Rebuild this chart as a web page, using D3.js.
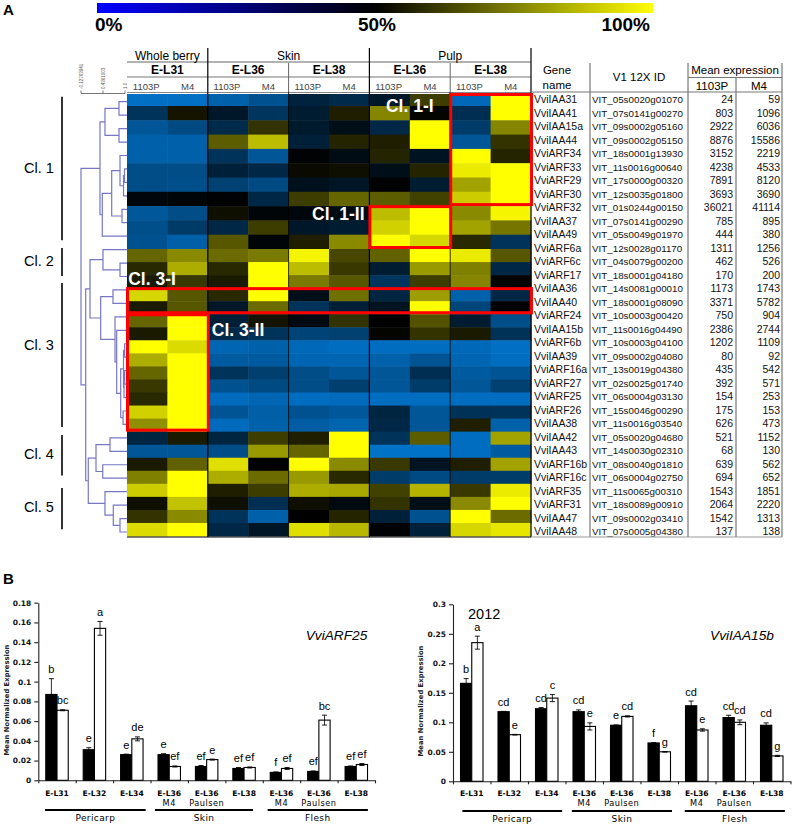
<!DOCTYPE html>
<html>
<head>
<meta charset="utf-8">
<script src="https://d3js.org/d3.v7.min.js"></script>
<style>
html, body { margin: 0; padding: 0; background: #fff; }
svg { display: block; font-family: "Liberation Sans", Arial, sans-serif; }
.bold8 { font-family: "DejaVu Sans", sans-serif; font-weight: bold; }
</style>
</head>
<body>
<div id="chart"></div>
<script>
// ---- panel A data ----
const genes = ["VviIAA31","VviIAA41","VviIAA15a","VviIAA44","VviARF34","VviARF33","VviARF29","VviARF30","VviARF32","VviIAA37","VviIAA49","VviARF6a","VviARF6c","VviARF17","VviIAA36","VviIAA40","VviARF24","VviIAA15b","VviARF6b","VviIAA39","VviARF16a","VviARF27","VviARF25","VviARF26","VviIAA38","VviIAA42","VviIAA43","VviARF16b","VviARF16c","VviARF35","VviARF31","VviIAA47","VviIAA48"];
const vitIds = ["VIT_05s0020g01070","VIT_07s0141g00270","VIT_09s0002g05160","VIT_09s0002g05150","VIT_18s0001g13930","VIT_11s0016g00640","VIT_17s0000g00320","VIT_12s0035g01800","VIT_01s0244g00150","VIT_07s0141g00290","VIT_05s0049g01970","VIT_12s0028g01170","VIT_04s0079g00200","VIT_18s0001g04180","VIT_14s0081g00010","VIT_18s0001g08090","VIT_10s0003g00420","VIT_11s0016g04490","VIT_10s0003g04100","VIT_09s0002g04080","VIT_13s0019g04380","VIT_02s0025g01740","VIT_06s0004g03130","VIT_15s0046g00290","VIT_11s0016g03540","VIT_05s0020g04680","VIT_14s0030g02310","VIT_08s0040g01810","VIT_06s0004g02750","VIT_11s0065g00310","VIT_18s0089g00910","VIT_09s0002g03410","VIT_07s0005g04380"];
const mean1103P = [24,803,2922,8876,3152,4238,7891,3693,36021,785,444,1311,462,170,1173,3371,750,2386,1202,80,435,392,154,175,626,521,68,639,694,1543,2064,1542,137];
const meanM4 = [59,1096,6036,15586,2219,4533,8120,3690,41114,895,380,1256,526,200,1743,5782,904,2744,1109,92,542,571,253,153,473,1152,130,562,652,1851,2220,1313,138];
const heat = [
  [2,2,8,15,35,32,40,62,5,100],
  [28,54,40,27,38,56,76,51,30,100],
  [13,18,32,60,39,44,33,100,24,76],
  [8,8,68,87,36,57,56,100,13,60],
  [8,8,28,13,49,45,57,42,100,57],
  [17,17,36,33,52,53,44,57,96,100],
  [17,16,22,18,43,41,49,38,82,100],
  [47,48,49,33,62,70,68,63,90,100],
  [12,17,53,48,47,45,87,100,77,98],
  [16,25,33,62,40,38,91,100,82,73],
  [15,9,67,48,56,77,100,92,58,28],
  [70,77,71,74,98,64,69,100,96,67],
  [58,84,58,100,87,61,38,80,75,33],
  [55,61,55,100,74,67,27,62,76,51],
  [92,67,58,100,44,72,34,81,8,33],
  [55,67,40,71,28,37,42,100,20,49],
  [70,100,37,54,46,60,50,66,38,16],
  [55,100,32,28,21,22,51,60,55,29],
  [100,93,6,8,5,3,3,3,5,2],
  [84,100,11,11,6,6,8,14,6,3],
  [70,100,28,23,17,13,13,30,11,14],
  [61,100,15,18,17,23,13,24,13,22],
  [58,100,4,6,3,4,3,3,3,3],
  [91,100,14,9,15,12,34,13,29,28],
  [78,100,4,8,10,7,33,13,56,8],
  [34,55,34,62,56,100,28,68,3,82],
  [13,13,17,80,70,100,1,1,3,11],
  [55,69,94,50,100,77,61,42,56,82],
  [75,100,84,71,80,58,24,18,24,24],
  [90,100,56,62,84,83,63,85,61,96],
  [53,88,53,30,53,46,60,44,77,100],
  [60,77,28,8,50,57,36,15,100,71],
  [93,100,33,41,94,86,49,36,92,95]
];
const cultivars = ["1103P","M4"];
const tissues = [["Whole berry",0,2],["Skin",2,6],["Pulp",6,10]];
const stages = [["E-L31",0],["E-L36",2],["E-L38",4],["E-L36",6],["E-L38",8]];
const legendTicks = [[0,"0%"],[50,"50%"],[100,"100%"]];
// [col start, col end, row start, row end]
const redBoxes = [[8,10,0,8],[6,8,8,11],[0,10,14,16],[0,2,16,25]];
const boxLabels = [["Cl. 1-I",6.41,1.14],["Cl. 1-II",4.58,8.7],["Cl. 3-I",0.03,13.45],["Cl. 3-II",2.1,17.36]];
// [label, row from, row to, label row]
const clusters = [["Cl. 1",0,10,5.3],["Cl. 2",11.25,12.66,12.2],["Cl. 3",13.85,23.9,18.5],["Cl. 4",25.15,27.5,26.55],["Cl. 5",29.1,31.5,30.5]];
const corrTicks = [[-0.12763941,"-0.12763941"],[0.4361003,"0.4361003"],[1,"1.0"]];
// dendrogram: [correlation, left, right], a plain number is a row
const dendro = [-0.1276,
  [0.359,
    [0.487,[0.846,0,1],[0.846,2,3]],
    [0.418,
      [0.659,
        [0.872,4,[0.962,[0.987,5,6],7]],
        [0.923,8,9]],
      10]],
  [-0.007,
    [0.103,
      [0.436,11,[0.872,12,13]],
      [0.377,
        [0.692,14,15],
        [0.744,16,
          [0.787,17,
            [0.890,
              [0.962,[0.99,18,19],[0.975,[0.99,20,21],22]],
              [0.95,23,24]]]]]],
    [0.059,
      [0.257,[0.616,25,26],[0.429,27,28]],
      [0.487,29,[0.700,30,[0.872,31,32]]]]]
];

// ---- panel B data ----
const groups = ["E-L31","E-L32","E-L34","E-L36|M4","E-L36|Paulsen","E-L38","E-L36|M4","E-L36|Paulsen","E-L38"];
const arf25Black = [0.087,0.031,0.026,0.026,0.014,0.012,0.008,0.009,0.014];
const arf25White = [0.071,0.154,0.042,0.014,0.021,0.013,0.012,0.061,0.016];
const arf25BlackErr = [0.016,0.002,0.0005,0.001,0.001,0.001,0.0005,0.0005,0.0005];
const arf25WhiteErr = [0.0005,0.007,0.002,0.0005,0.0005,0.0005,0.001,0.005,0.001];
const arf25BlackSig = ["b","e","e","e","ef","ef","f","ef","ef"];
const arf25WhiteSig = ["bc","a","de","ef","e","ef","ef","bc","ef"];
const arf25Ticks = [0,0.02,0.04,0.06,0.08,0.1,0.12,0.14,0.16,0.18];
const arf25Organs = [["Pericarp",0.18,2.87],["Skin",3.12,5.74],["Flesh",6.13,8.81]];
const iaa15bBlack = [0.166,0.118,0.123,0.118,0.095,0.065,0.128,0.108,0.095];
const iaa15bWhite = [0.235,0.079,0.141,0.093,0.110,0.050,0.087,0.100,0.043];
const iaa15bBlackErr = [0.008,0.0005,0.002,0.003,0.0005,0.0005,0.008,0.004,0.004];
const iaa15bWhiteErr = [0.011,0.0005,0.006,0.006,0.001,0.0005,0.002,0.004,0.001];
const iaa15bBlackSig = ["b","cd","cd","cd","e","f","cd","cd","cd"];
const iaa15bWhiteSig = ["a","e","c","e","cd","g","e","cd","g"];
const iaa15bTicks = [0,0.05,0.1,0.15,0.2,0.25,0.3];
const iaa15bOrgans = [["Pericarp",0.25,2.91],["Skin",3.17,5.84],["Flesh",6.18,8.85]];

const svg = d3.select("#chart").append("svg").attr("width", 794).attr("height", 827);

function txt(g, x, y, s, size, opt) {
  opt = opt || {};
  return g.append("text").attr("x", x).attr("y", y).text(s)
    .attr("font-size", size)
    .attr("font-weight", opt.weight || null)
    .attr("font-style", opt.style || null)
    .attr("text-anchor", opt.anchor || "start")
    .attr("fill", opt.fill || "#000")
    .attr("class", opt.cls || null)
    .attr("letter-spacing", opt.spacing || null);
}
function line(g, x1, y1, x2, y2, color, w) {
  return g.append("line").attr("x1", x1).attr("y1", y1).attr("x2", x2).attr("y2", y2)
    .attr("stroke", color).attr("stroke-width", w);
}

/////////////// Panel A ///////////////
const A = svg.append("g");
txt(A, 3, 15, "A", 15, {weight: "bold"});

// colour key on top
const legendX = d3.scaleLinear().domain([0, 100]).range([97, 653]);
const keyColor = d3.scaleLinear().domain([0, 50, 100]).range(["#0000ff", "#000000", "#ffff00"]);
const grad = svg.append("defs").append("linearGradient").attr("id", "key");
[0, 50, 100].forEach(p => grad.append("stop").attr("offset", p + "%").attr("stop-color", keyColor(p)));
A.append("rect").attr("x", legendX(0)).attr("y", 3).attr("width", legendX(100) - legendX(0)).attr("height", 10).attr("fill", "url(#key)");
legendTicks.forEach((t, i) => {
  txt(A, legendX(t[0]) + [-2, 2, -3][i], 31, t[1], 19, {weight: "bold", anchor: ["start", "middle", "end"][i]});
});

// heat map
const colX = d3.scaleBand().domain(d3.range(10)).range([127, 531]);
const rowY = d3.scaleLinear().domain([0, 1, 11, 33]).range([94, 106, 249, 536]);
const heatColor = d3.scaleLinear().domain([0, 50, 100]).range(["#0074cc", "#000000", "#ffff00"]);

heat.forEach((row, r) => {
  A.selectAll(null).data(row).enter().append("rect")
    .attr("x", (d, c) => colX(c))
    .attr("y", rowY(r))
    .attr("width", colX.bandwidth() + 0.5)
    .attr("height", rowY(r + 1) - rowY(r) + 0.5)
    .attr("fill", d => heatColor(d));
});

// header above the heat map
line(A, 127, 62, 531, 62, "#666", 1.2);
line(A, 127, 77, 531, 77, "#777", 1.2);
line(A, 127, 92.5, 531, 92.5, "#888", 1.2);
tissues.forEach(t => {
  txt(A, (colX(t[1]) + colX(t[2] - 1) + colX.bandwidth()) / 2, 60, t[0], 12, {anchor: "middle"});
});
stages.forEach(s => {
  txt(A, colX(s[1]) + colX.bandwidth(), 74, s[0], 12, {weight: "bold", anchor: "middle"});
});
d3.range(10).forEach(c => {
  txt(A, colX(c) + colX.bandwidth() / 2 + (c % 2 ? 0 : -1), 90, cultivars[c % 2], 9.5, {anchor: "middle", fill: "#444"});
});
[2, 6, 10].forEach(c => {
  const x = c === 10 ? 531 : colX(c);
  line(A, x, 48, x, 537, "#000", 1.2);
});
[4, 8].forEach(c => {
  line(A, colX(c), 63, colX(c), 92, "#666", 1);
  line(A, colX(c), 92, colX(c), 537, "#000", 0.8);
});
line(A, 127, 537, 531, 537, "#000", 1.2);

// dendrogram
const corrX = d3.scaleLinear().domain([-0.1276, 1]).range([81, 125]);
const leafY = d3.scaleLinear().domain([0, 32]).range([101.7, 532]);
const dendroG = A.append("g").attr("fill", "none").attr("stroke", "#7777c4").attr("stroke-width", 1.2);
function drawNode(n) {
  if (typeof n === "number") return {x: 127, y: leafY(n)};
  const a = drawNode(n[1]), b = drawNode(n[2]);
  const x = corrX(n[0]);
  dendroG.append("path").attr("d", `M${a.x},${a.y}H${x}V${b.y}H${b.x}`);
  return {x: x, y: (a.y + b.y) / 2};
}
drawNode(dendro);

// correlation axis
line(A, corrX(-0.1276), 93.5, corrX(1), 93.5, "#555", 0.8);
corrTicks.forEach(t => {
  line(A, corrX(t[0]), 90.5, corrX(t[0]), 93.5, "#555", 0.8);
  A.append("text").text(t[1]).attr("font-size", 4.5).attr("fill", "#555")
    .attr("transform", `translate(${corrX(t[0]) + 2},89) rotate(-90)`);
});

// cluster brackets
clusters.forEach(c => {
  line(A, 62, leafY(c[1]) - 5, 62, leafY(c[2]) + 4, "#000", 1.6);
  txt(A, 24, leafY(c[3]), c[0], 14.5);
});

// red boxes and their labels
redBoxes.forEach(b => {
  const x1 = b[0] === 10 ? 531 : colX(b[0]);
  const x2 = b[1] === 10 ? 531 : colX(b[1]);
  A.append("rect")
    .attr("x", x1 + 0.5).attr("y", rowY(b[2]) + 0.5)
    .attr("width", x2 - x1).attr("height", rowY(b[3]) - rowY(b[2]) - 2)
    .attr("fill", "none").attr("stroke", "#ff0000").attr("stroke-width", 3);
});
boxLabels.forEach(l => {
  txt(A, colX.range()[0] + l[1] * colX.bandwidth(), rowY(l[2]) + 4, l[0], 17.5, {weight: "bold", fill: "#fff"});
});

// gene table
const tableY = d3.scaleLinear().domain([0, 32]).range([103, 535]);
const T = A.append("g");
T.selectAll(null).data(genes).enter().append("text")
  .attr("x", 534).attr("y", (d, i) => tableY(i)).attr("font-size", 10.5).attr("fill", "#111").text(d => d);
T.selectAll(null).data(vitIds).enter().append("text")
  .attr("x", 592).attr("y", (d, i) => tableY(i)).attr("font-size", 9.8).attr("fill", "#111").text(d => d);
T.selectAll(null).data(mean1103P).enter().append("text")
  .attr("x", 733).attr("y", (d, i) => tableY(i)).attr("font-size", 10.5).attr("fill", "#111").attr("text-anchor", "end").text(d => d);
T.selectAll(null).data(meanM4).enter().append("text")
  .attr("x", 780).attr("y", (d, i) => tableY(i)).attr("font-size", 10.5).attr("fill", "#111").attr("text-anchor", "end").text(d => d);
txt(T, 557, 74, "Gene", 11.5, {anchor: "middle"});
txt(T, 557, 89, "name", 11.5, {anchor: "middle"});
txt(T, 639, 81, "V1 12X ID", 11.5, {anchor: "middle"});
txt(T, 735, 74, "Mean expression", 11.5, {anchor: "middle"});
txt(T, 712, 90, "1103P", 11.5, {anchor: "middle"});
txt(T, 759, 90, "M4", 11.5, {anchor: "middle"});
[[590, 63], [688, 63], [782, 63], [736, 78]].forEach(v => line(T, v[0], v[1], v[0], 537, "#777", 1.2));
line(T, 688, 77.5, 782, 77.5, "#777", 1.2);
line(T, 531, 92, 782, 92, "#777", 1.2);
line(T, 531, 537, 782, 537, "#999", 1.2);

/////////////// Panel B ///////////////
txt(svg, 3, 584, "B", 15, {weight: "bold"});

function barChart(o) {
  const g = svg.append("g");
  const x = d3.scaleBand().domain(d3.range(9)).range([o.x0, o.x1]).paddingInner(0.4).paddingOuter(0.2);
  const inner = d3.scaleBand().domain([0, 1]).range([0, x.bandwidth()]);
  const y = d3.scaleLinear().domain([0, o.ticks[o.ticks.length - 1]]).range([o.y0, o.y1]);

  const yAxis = d3.axisLeft(y).tickValues(o.ticks).tickSize(4).tickSizeOuter(0).tickPadding(3).tickFormat(d => String(d));
  const ya = g.append("g").attr("transform", `translate(${o.x0},0)`).call(yAxis);
  ya.selectAll("text").attr("class", "bold8").attr("font-size", 7.5).attr("fill", "#111");
  const edge = d3.scaleLinear().domain([0, 9]).range([o.x0, o.x1]);
  g.append("g").attr("transform", `translate(0,${o.y0})`)
    .call(d3.axisBottom(edge).tickValues(d3.range(10)).tickFormat("").tickSize(3).tickSizeOuter(0));
  g.selectAll(".domain, .tick line").attr("stroke", "#222").attr("stroke-width", 1.1);

  [[o.black, o.blackErr, o.blackSig, "#000", 0], [o.white, o.whiteErr, o.whiteSig, "#fff", 1]].forEach(s => {
    const bx = i => x(i) + inner(s[4]);
    g.selectAll(null).data(s[0]).enter().append("rect")
      .attr("x", (d, i) => bx(i)).attr("y", d => y(d))
      .attr("width", inner.bandwidth()).attr("height", d => y(0) - y(d))
      .attr("fill", s[3]).attr("stroke", "#000").attr("stroke-width", 1.1);
    // error bars
    s[0].forEach((v, i) => {
      const cx = bx(i) + inner.bandwidth() / 2, hi = y(v + s[1][i]), lo = y(v - s[1][i]);
      line(g, cx, hi, cx, lo, "#000", 0.8);
      line(g, cx - 2.5, hi, cx + 2.5, hi, "#000", 0.9);
      line(g, cx - 2.5, lo, cx + 2.5, lo, "#000", 0.9);
      txt(g, cx, hi - 5.5, s[2][i], 11, {anchor: "middle"});
    });
  });

  // group labels
  groups.forEach((d, i) => {
    const parts = d.split("|"), cx = edge(i + 0.5);
    txt(g, cx, 796, parts[0], 7.6, {anchor: "middle", cls: "bold8"});
    if (parts[1]) txt(g, cx, 805.5, parts[1], 8.2, {anchor: "middle", spacing: 0.5}).style("font-family", "'DejaVu Sans', sans-serif");
  });
  o.organs.forEach(a => {
    const xa1 = edge(a[1]), xa2 = edge(a[2]);
    line(g, xa1, o.organY, xa2, o.organY, "#000", 2);
    txt(g, (xa1 + xa2) / 2, o.organY + 11, a[0], 9, {anchor: "middle", spacing: 0.4}).style("font-family", "'DejaVu Sans', sans-serif");
  });

  g.append("text").text("Mean Normalized Expression").attr("class", "bold8").attr("font-size", 6.8)
    .attr("fill", "#222").attr("text-anchor", "middle")
    .attr("transform", `translate(${o.labelX},${o.labelMid}) rotate(-90)`);
  txt(g, o.titleX, 640, o.title, 13.7, {style: "italic"});
}

barChart({
  x0: 38.3, x1: 375, y0: 780.3, y1: 602.7, ticks: arf25Ticks,
  black: arf25Black, white: arf25White, blackErr: arf25BlackErr, whiteErr: arf25WhiteErr,
  blackSig: arf25BlackSig, whiteSig: arf25WhiteSig, organs: arf25Organs,
  organY: 810, labelX: 9, labelMid: 700,
  title: "VviARF25", titleX: 305.7
});
barChart({
  x0: 453, x1: 790.5, y0: 781.3, y1: 604.3, ticks: iaa15bTicks,
  black: iaa15bBlack, white: iaa15bWhite, blackErr: iaa15bBlackErr, whiteErr: iaa15bWhiteErr,
  blackSig: iaa15bBlackSig, whiteSig: iaa15bWhiteSig, organs: iaa15bOrgans,
  organY: 811, labelX: 423, labelMid: 701,
  title: "VviIAA15b", titleX: 710
});
txt(svg, 468, 619, "2012", 14.5);
</script>
</body>
</html>
